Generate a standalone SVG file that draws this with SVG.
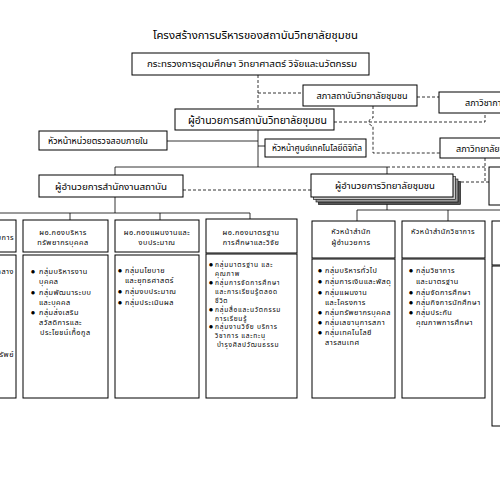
<svg xmlns="http://www.w3.org/2000/svg" width="500" height="500" viewBox="0 0 500 500">
<style>
text{font-family:"Noto Sans Thai","Tahoma","Loma","Garuda","DejaVu Sans","Liberation Sans",sans-serif;fill:#000}
.b{fill:#fff;stroke:#000;stroke-width:1}
.m{text-anchor:middle}
.t{font-size:9px}
.s{font-size:7.3px;letter-spacing:0.5px}
.sd{font-size:6.6px;letter-spacing:0.75px}
.u{font-size:4.5px}
.ln{fill:none;stroke:#000;stroke-width:0.8}
.d{fill:none;stroke:#000;stroke-width:0.8;stroke-dasharray:3,2}
</style>
<rect width="500" height="500" fill="#fff"/>
<text x="255.5" y="39" class="m" font-size="11" textLength="205" lengthAdjust="spacingAndGlyphs">โครงสร้างการบริหารของสถาบันวิทยาลัยชุมชน</text>
<g id="connectors">
<path class="d" d="M258,75 V109 M258,93 H303 M417,97 H439 M373,106 V118 A4,4 0 0 0 373,126 V153 H440 M334,122 H485 V113 M183,190 H311 M387,167 H485 M485,158 V182 M461,182 H489"/>
<path class="ln" d="M258,130 V167 M115,167 H387 V174 M115,167 V175 M167,141 H258 M258,146 H265 M115,197 V213 M-30,213 H250 M70,213 V220 M160,213 V220 M250,213 V219 M-27,213 V220 M387,197 V210 M357,210 H540 M357,210 V221 M448,210 V221 M520,210 V221"/>
</g>
<g id="n-ministry"><rect class="b" x="132" y="53" width="237" height="22"/><text x="252" y="67" class="m t" textLength="210" lengthAdjust="spacingAndGlyphs">กระทรวงการอุดมศึกษา วิทยาศาสตร์ วิจัยและนวัตกรรม</text></g>
<g id="n-council"><rect class="b" x="303" y="85" width="114" height="21"/><text x="362" y="99" class="m t" textLength="91" lengthAdjust="spacingAndGlyphs">สภาสถาบันวิทยาลัยชุมชน</text></g>
<g id="n-academic-council"><rect class="b" x="439" y="92" width="100" height="21"/><text x="465" y="106" class="t">สภาวิชาการ</text></g>
<g id="n-director"><rect class="b" x="175" y="109" width="159" height="21"/><text x="257.5" y="123.5" class="m" font-size="10" textLength="139" lengthAdjust="spacingAndGlyphs">ผู้อำนวยการสถาบันวิทยาลัยชุมชน</text></g>
<g id="n-audit"><rect class="b" x="39" y="131" width="128" height="19"/><text x="98" y="144" class="m t" textLength="100" lengthAdjust="spacingAndGlyphs">หัวหน้าหน่วยตรวจสอบภายใน</text></g>
<g id="n-digital"><rect class="b" x="265" y="139" width="101" height="18"/><text x="317" y="151" class="m t" textLength="90" lengthAdjust="spacingAndGlyphs">หัวหน้าศูนย์เทคโนโลยีดิจิทัล</text></g>
<g id="n-college-council"><rect class="b" x="440" y="138" width="100" height="20"/><text x="456" y="151.5" class="t">สภาวิทยาลัยชุมชน</text></g>
<g id="n-office"><rect class="b" x="39" y="175" width="144" height="22"/><text x="111" y="189.5" class="m t" textLength="112" lengthAdjust="spacingAndGlyphs">ผู้อำนวยการสำนักงานสถาบัน</text></g>
<g id="n-college-director">
<rect x="318.5" y="181.5" width="142" height="23" fill="#555" stroke="#000" stroke-width="0.6"/>
<rect x="316" y="179" width="142" height="23" fill="#999" stroke="#000" stroke-width="0.6"/>
<rect x="313.5" y="176.5" width="142" height="23" fill="#ccc" stroke="#000" stroke-width="0.6"/>
<rect class="b" x="311" y="174" width="142" height="23"/><text x="385" y="189" class="m t" textLength="100" lengthAdjust="spacingAndGlyphs">ผู้อำนวยการวิทยาลัยชุมชน</text></g>
<g id="n-right-box"><rect class="b" x="489" y="167" width="80" height="38"/></g>
<g id="n-col-a"><rect class="b" x="-70" y="220" width="86" height="32"/><rect class="b" x="-70" y="255" width="86" height="143"/>
<text x="14" y="240" class="s" text-anchor="end">ผอ.กองอำนวยการ</text>
<text x="14" y="274" class="s" text-anchor="end">กลุ่มบริหารงานกลาง</text>
<text x="14" y="357" class="s" text-anchor="end">กลุ่มบริหารทรัพย์</text></g>
<g id="n-col-b"><rect class="b" x="23" y="220" width="85" height="32"/><rect class="b" x="23" y="255" width="85" height="143"/>
<text x="63" y="235" class="m s">ผอ.กองบริหาร</text><text x="63" y="245" class="m s">ทรัพยากรบุคคล</text>
<g class="u"><text x="31" y="273">●</text><text x="31" y="294">●</text><text x="31" y="314">●</text></g>
<g class="s"><text x="39" y="274">กลุ่มบริหารงาน</text><text x="39" y="284">บุคคล</text>
<text x="39" y="295">กลุ่มพัฒนาระบบ</text><text x="39" y="305">และบุคคล</text>
<text x="39" y="315">กลุ่มส่งเสริม</text><text x="39" y="325">สวัสดิการและ</text><text x="40" y="335">ประโยชน์เกื้อกูล</text></g></g>
<g id="n-col-c"><rect class="b" x="115" y="220" width="84" height="32"/><rect class="b" x="115" y="255" width="84" height="143"/>
<text x="157" y="235" class="m s">ผอ.กองแผนงานและ</text><text x="157" y="245" class="m s">งบประมาณ</text>
<g class="u"><text x="118" y="272">●</text><text x="118" y="293">●</text><text x="118" y="304">●</text></g>
<g class="s"><text x="125" y="273">กลุ่มนโยบาย</text><text x="125" y="283">และยุทธศาสตร์</text>
<text x="125" y="294">กลุ่มงบประมาณ</text>
<text x="125" y="305">กลุ่มประเมินผล</text></g></g>
<g id="n-col-d"><rect class="b" x="206" y="219" width="91" height="34"/><rect class="b" x="206" y="254" width="91" height="144"/>
<text x="251" y="235" class="m s">ผอ.กองมาตรฐาน</text><text x="251" y="245" class="m s">การศึกษาและวิจัย</text>
<g class="u"><text x="209" y="266">●</text><text x="209" y="284">●</text><text x="209" y="311">●</text><text x="209" y="328">●</text></g>
<g class="sd"><text x="215" y="267">กลุ่มมาตรฐาน และ</text><text x="215" y="276">คุณภาพ</text>
<text x="215" y="285">กลุ่มการจัดการศึกษา</text><text x="215" y="294">และการเรียนรู้ตลอด</text><text x="215" y="303">ชีวิต</text>
<text x="215" y="312">กลุ่มสื่อและนวัตกรรม</text><text x="215" y="320.5">การเรียนรู้</text>
<text x="215" y="329">กลุ่มงานวิจัย บริการ</text><text x="215" y="338">วิชาการ และทะนุ</text><text x="217" y="347">บำรุงศิลปวัฒนธรรม</text></g></g>
<g id="n-col-e"><rect class="b" x="312" y="221" width="83" height="37"/><rect class="b" x="312" y="259" width="83" height="139"/>
<text x="351" y="234" class="m s">หัวหน้าสำนัก</text><text x="351" y="245" class="m s">ผู้อำนวยการ</text>
<g class="u"><text x="318" y="272">●</text><text x="318" y="283">●</text><text x="318" y="294">●</text><text x="318" y="313.5">●</text><text x="318" y="323.5">●</text><text x="318" y="333.5">●</text></g>
<g class="s"><text x="325" y="273">กลุ่มบริหารทั่วไป</text>
<text x="325" y="284">กลุ่มการเงินและพัสดุ</text>
<text x="325" y="295">กลุ่มแผนงาน</text><text x="325" y="304.5">และโครงการ</text>
<text x="325" y="314.5">กลุ่มทรัพยากรบุคคล</text>
<text x="325" y="324.5">กลุ่มเลขานุการสภา</text>
<text x="325" y="334.5">กลุ่มเทคโนโลยี</text><text x="325" y="345">สารสนเทศ</text></g></g>
<g id="n-col-f"><rect class="b" x="402" y="221" width="83" height="37"/><rect class="b" x="402" y="259" width="83" height="139"/>
<text x="443" y="234" class="m s">หัวหน้าสำนักวิชาการ</text>
<g class="u"><text x="409" y="272">●</text><text x="409" y="294">●</text><text x="409" y="304">●</text><text x="409" y="314">●</text></g>
<g class="s"><text x="416" y="273">กลุ่มวิชาการ</text><text x="416" y="284">และมาตรฐาน</text>
<text x="416" y="295">กลุ่มจัดการศึกษา</text>
<text x="416" y="305">กลุ่มกิจการนักศึกษา</text>
<text x="416" y="315">กลุ่มประกัน</text><text x="416" y="325">คุณภาพการศึกษา</text></g></g>
<g id="n-col-g"><rect class="b" x="492" y="221" width="60" height="44"/><rect class="b" x="492" y="266" width="60" height="160"/></g>
</svg>
